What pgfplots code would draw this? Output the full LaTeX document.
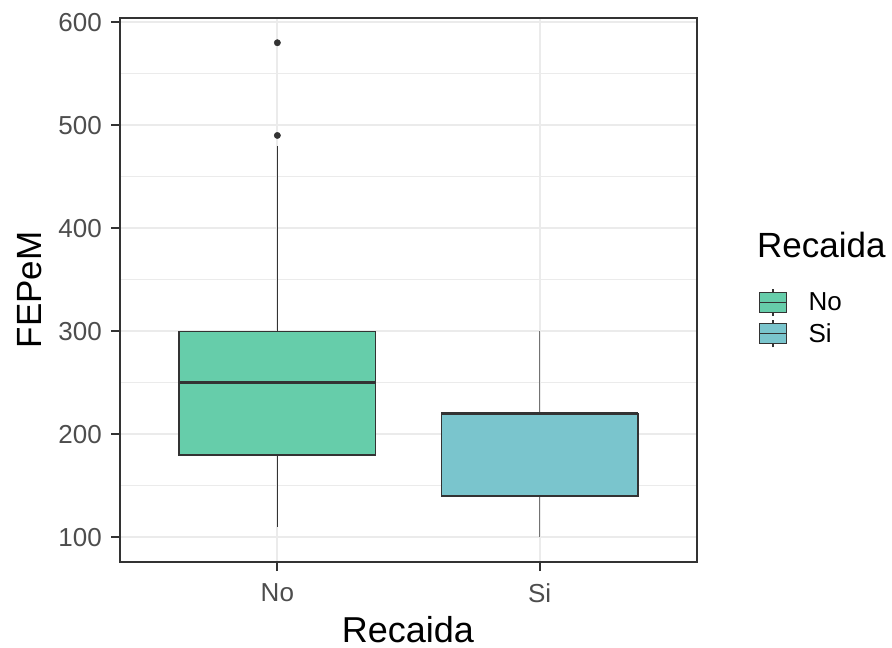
\documentclass[border=0pt]{standalone}
\usepackage{fontspec}
\setmainfont{Liberation Sans}
\usepackage{pgfplots}
\pgfplotsset{compat=1.18}
\definecolor{grey20}{HTML}{333333}
\definecolor{grey30}{HTML}{4D4D4D}
\definecolor{grey92}{HTML}{EBEBEB}
\definecolor{noCol}{HTML}{66CDAA}
\definecolor{siCol}{HTML}{7AC5CD}
\pgfplotsset{
  boxleg/.style={legend image code/.code={
    \path[draw=none, fill=none] (0bp,0bp) -- (47bp,0bp);
    \draw[line width=1.2bp, draw=grey20] (13.5bp,-13.5bp) -- (13.5bp,13.5bp);
    \filldraw[line width=1.2bp, draw=grey20] (0bp,-10bp) rectangle (27bp,10bp);
    \draw[line width=1.2bp, draw=grey20] (0bp,0bp) -- (27bp,0bp);
  }}
}
\begin{document}
\begin{tikzpicture}
\useasboundingbox (0,0) rectangle (892bp,648bp);
\begin{axis}[
  at={(120bp,86bp)}, anchor=south west,
  scale only axis, width=577bp, height=544bp,
  xmin=0.4, xmax=2.6, ymin=76, ymax=604,
  xtick={1,2}, xticklabels={No,Si},
  ytick={100,200,...,600},
  minor ytick={150,250,...,550},
  minor tick length=0pt,
  xmajorgrids, ymajorgrids, yminorgrids,
  major grid style={color=grey92, line width=2bp},
  minor grid style={color=grey92, line width=1.2bp},
  axis line style={grey20, line width=2bp},
  tick align=outside, major tick length=9bp,
  xtick pos=bottom, ytick pos=left,
  tick style={grey20, line width=2bp},
  /pgf/number format/assume math mode=true,
  ticklabel style={font=\fontsize{26bp}{30bp}\selectfont, text=grey30},
  yticklabel style={anchor=east, inner sep=0pt, xshift=-9bp},
  xticklabel style={anchor=north, inner sep=0pt, yshift=-12bp},
  legend style={draw=none, fill=none, at={(rel axis cs:1.107,0.503)}, anchor=north west,
    font=\fontsize{26bp}{30bp}\selectfont, inner sep=0pt, row sep=3bp,
    nodes={inner sep=2bp}},
  legend cell align=left,
]
\addlegendimage{boxleg, fill=noCol}
\addlegendentry{No}
\addlegendimage{boxleg, fill=siCol}
\addlegendentry{Si}
% group No: whiskers 110 / 480, quartiles 180 / 300, median 250, outliers 490, 580
\addplot[grey20, line width=1.6bp, forget plot] coordinates {(1,110) (1,180)};
\addplot[grey20, line width=1.6bp, forget plot] coordinates {(1,300) (1,480)};
\addplot[fill=noCol, draw=grey20, line width=1.4bp, forget plot]
  coordinates {(0.625,180) (1.375,180) (1.375,300) (0.625,300)} -- cycle;
\addplot[grey20, line width=3.5bp, forget plot] coordinates {(0.625,250) (1.375,250)};
\addplot[only marks, mark=*, mark size=3.2bp, color=grey20, forget plot]
  coordinates {(1,490) (1,580)};
% group Si: whiskers 100 / 300, quartiles 140 / 220, median 220
\addplot[gray!90!black, line width=1.6bp, forget plot] coordinates {(2,100) (2,140)};
\addplot[gray!90!black, line width=1.6bp, forget plot] coordinates {(2,220) (2,300)};
\addplot[fill=siCol, draw=grey20, line width=1.4bp, forget plot]
  coordinates {(1.625,140) (2.375,140) (2.375,220) (1.625,220)} -- cycle;
\addplot[grey20, line width=3.5bp, forget plot] coordinates {(1.625,220) (2.375,220)};
\end{axis}
\node[rotate=90, anchor=base, font=\fontsize{35bp}{40bp}\selectfont] at (41bp,358bp) {FEPeM};
\node[anchor=base, font=\fontsize{36bp}{40bp}\selectfont] at (408bp,6bp) {Recaida};
\node[anchor=base west, inner sep=0pt, font=\fontsize{35bp}{40bp}\selectfont] at (757bp,390bp) {Recaida};
\end{tikzpicture}
\end{document}
